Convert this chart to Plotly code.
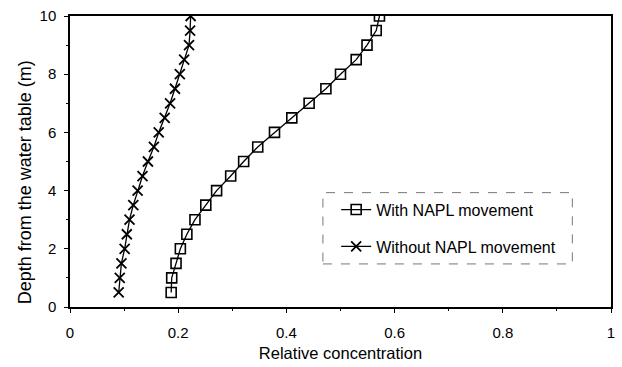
import plotly.graph_objects as go

depth = [0.5, 1.0, 1.5, 2.0, 2.5, 3.0, 3.5, 4.0, 4.5, 5.0,
         5.5, 6.0, 6.5, 7.0, 7.5, 8.0, 8.5, 9.0, 9.5, 10.0]
with_napl = [0.187, 0.188, 0.196, 0.204, 0.216, 0.231, 0.251, 0.271, 0.297, 0.321,
             0.347, 0.378, 0.410, 0.442, 0.473, 0.500, 0.529, 0.549, 0.566, 0.572]
without_napl = [0.090, 0.092, 0.095, 0.101, 0.105, 0.110, 0.117, 0.125, 0.134, 0.144,
                0.155, 0.164, 0.175, 0.185, 0.194, 0.203, 0.211, 0.220, 0.222, 0.223]
x_ticks = [0, 0.2, 0.4, 0.6, 0.8, 1]
x_tick_labels = ["0", "0.2", "0.4", "0.6", "0.8", "1"]
y_ticks = [0, 2, 4, 6, 8, 10]
x_title = "Relative concentration"
y_title = "Depth from the water table (m)"

FONT = "Liberation Sans, Arial, sans-serif"

fig = go.Figure()
fig.add_trace(go.Scatter(
    x=with_napl, y=depth, mode="lines+markers", name="With NAPL movement",
    legendgroup="a",
    line=dict(color="black", width=1.3),
    marker=dict(symbol="square-open", size=10, color="black", line=dict(width=1.6)),
))
fig.add_trace(go.Scatter(
    x=without_napl, y=depth, mode="lines+markers", name="Without NAPL movement",
    legendgroup="b",
    line=dict(color="black", width=1.3),
    marker=dict(symbol="x-thin-open", size=10, color="black", line=dict(width=1.8)),
))

fig.update_layout(
    width=622, height=367,
    margin=dict(l=70, r=7, t=12, b=57),
    paper_bgcolor="white", plot_bgcolor="white",
    font=dict(family=FONT, size=15, color="black"),
    showlegend=True,
    legend=dict(x=0.492, y=0.393, xanchor="left", yanchor="top",
                bgcolor="rgba(0,0,0,0)", borderwidth=0,
                font=dict(size=16), tracegroupgap=13, traceorder="grouped"),
    shapes=[dict(type="rect", xref="paper", yref="paper",
                 x0=0.4675, x1=0.9285, y0=0.148, y1=0.393,
                 line=dict(color="#777777", width=1, dash="dash"))],
    annotations=[dict(text=y_title, xref="paper", yref="paper",
                      x=-0.084, y=0.427, xanchor="center", yanchor="middle",
                      textangle=-90, showarrow=False, font=dict(size=18))],
)
fig.update_xaxes(
    range=[0, 1], tickvals=x_ticks, ticktext=x_tick_labels,
    tickfont=dict(size=15), ticklabeloverflow="allow", ticklabelstandoff=7,
    showgrid=False, zeroline=False,
    showline=True, linecolor="black", linewidth=1.5, mirror=True,
    ticks="outside", ticklen=4, tickcolor="black",
    minor=dict(dtick=0.1, ticks="outside", ticklen=2, tickcolor="black"),
    title=dict(text=x_title, font=dict(size=16.5), standoff=8),
)
fig.update_yaxes(
    range=[0, 10], tickvals=y_ticks,
    tickfont=dict(size=15), ticklabelstandoff=5,
    showgrid=False, zeroline=False,
    showline=True, linecolor="black", linewidth=1.5, mirror=True,
    ticks="outside", ticklen=4, tickcolor="black",
    minor=dict(dtick=1, ticks="outside", ticklen=2, tickcolor="black"),
)

fig.write_html("out.html", config={"displayModeBar": False},
               post_script="document.body.style.margin='0';")
